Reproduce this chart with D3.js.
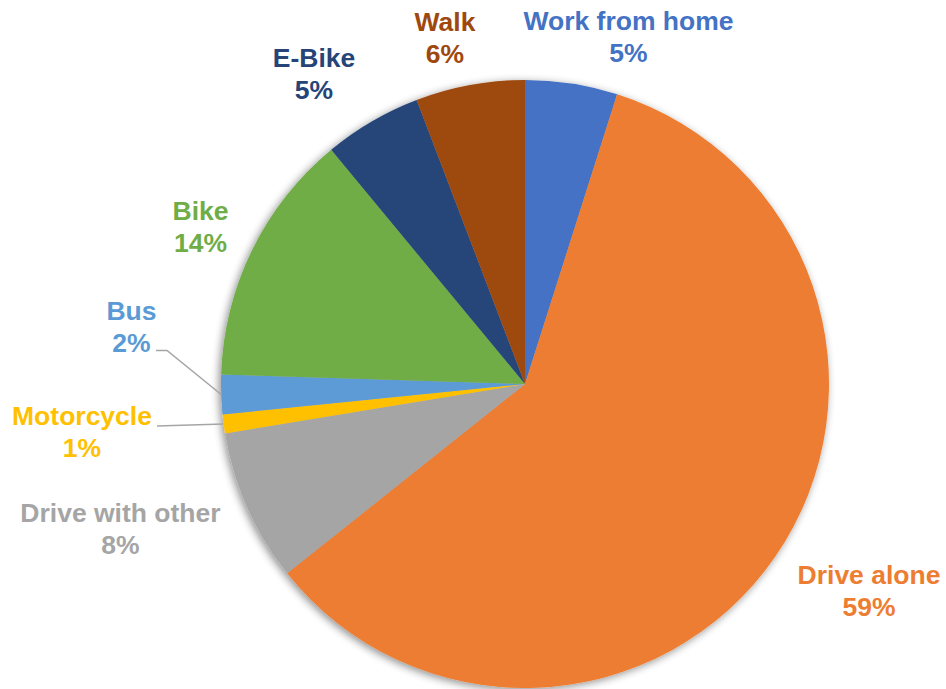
<!DOCTYPE html>
<html><head><meta charset="utf-8">
<script src="https://cdn.jsdelivr.net/npm/d3@7"></script>
<style>body{margin:0;background:#fff}svg{display:block}</style>
</head><body>
<script>
const categories = ["Work from home","Drive alone","Drive with other","Motorcycle","Bus","Bike","E-Bike","Walk"];
const values = [4.9, 59.4, 8.1, 1.0, 2.1, 13.5, 5.2, 5.8];
const colors = ["#4472C4","#ED7D31","#A5A5A5","#FFC000","#5B9BD5","#70AD47","#264478","#9E480E"];
// label anchor: centre x, first-line baseline
const labelPos = [[628.5,30],[869,584],[120.5,521.5],[82,425],[131.5,320],[200.5,220],[314,67],[445,30.5]];

const W=946,H=689,cx=525,cy=384,R=304;
const svg=d3.select("body").append("svg").attr("width",W).attr("height",H);
const defs=svg.append("defs");
const f=defs.append("filter").attr("id","sh").attr("x","-20%").attr("y","-20%").attr("width","140%").attr("height","140%");
f.append("feGaussianBlur").attr("in","SourceAlpha").attr("stdDeviation",4);
f.append("feOffset").attr("dx",-2).attr("dy",2).attr("result","b");
f.append("feComponentTransfer").append("feFuncA").attr("type","linear").attr("slope",0.45);
const m=f.append("feMerge");m.append("feMergeNode");m.append("feMergeNode").attr("in","SourceGraphic");

const pie=d3.pie().sort(null).value(d=>d)(values);
const arc=d3.arc().innerRadius(0).outerRadius(R);
const total=d3.sum(values);
const g=svg.append("g").attr("transform",`translate(${cx},${cy})`).attr("filter","url(#sh)");
g.selectAll("path").data(pie).join("path").attr("d",arc).attr("fill",(d,i)=>colors[i]);

// leader lines
const bus=pie[4], moto=pie[3];
const outer=(a,r)=>[cx+r*Math.sin(a),cy-r*Math.cos(a)];
const busPt=outer((bus.startAngle+bus.endAngle)/2,R);
const motoPt=outer((moto.startAngle+moto.endAngle)/2,R);
svg.append("polyline").attr("points",`156,350.5 167,350.5 ${busPt[0]},${busPt[1]}`).attr("fill","none").attr("stroke","#A5A5A5").attr("stroke-width",1.5);
svg.append("polyline").attr("points",`157,426 ${motoPt[0]},${motoPt[1]}`).attr("fill","none").attr("stroke","#A5A5A5").attr("stroke-width",1.5);

const lab=svg.append("g").attr("font-family","'Liberation Sans',Arial,sans-serif").attr("font-weight","bold").attr("font-size",26.5).attr("text-anchor","middle");
categories.forEach((c,i)=>{
  const t=lab.append("text").attr("fill",colors[i]).attr("x",labelPos[i][0]).attr("y",labelPos[i][1]);
  t.append("tspan").attr("x",labelPos[i][0]).text(c);
  t.append("tspan").attr("x",labelPos[i][0]).attr("dy",32).text(Math.round(values[i]/total*100)+"%");
});
</script>
</body></html>
